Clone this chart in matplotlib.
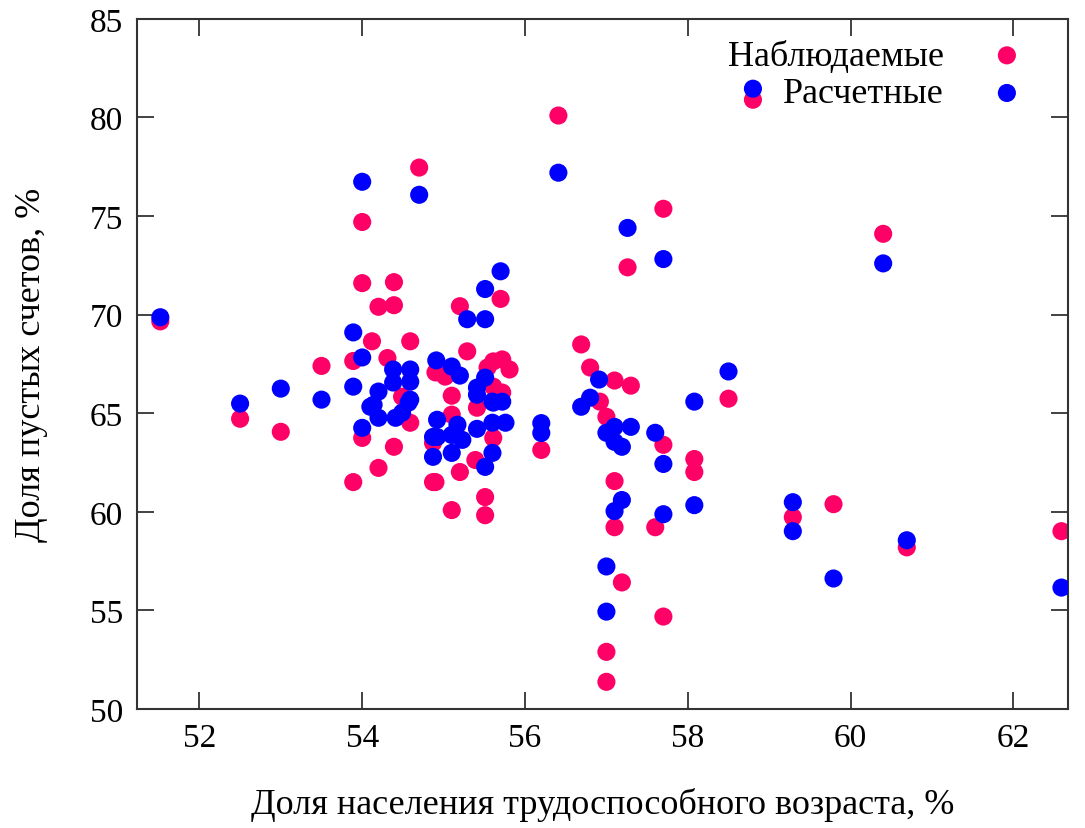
import matplotlib
matplotlib.use("Agg")
import matplotlib.pyplot as plt

# Наблюдаемые (observed)
obs_x = [51.52, 52.5, 53.0, 53.5, 53.89, 53.89, 54.0, 54.0, 54.0, 54.12, 54.2, 54.2,
         54.31, 54.39, 54.39, 54.39, 54.49, 54.59, 54.59, 54.7, 54.9, 54.87, 54.87, 54.9,
         55.02, 55.1, 55.1, 55.1, 55.2, 55.2, 55.29, 55.41, 55.39, 55.54, 55.51, 55.51,
         55.61, 55.61, 55.61, 55.7, 55.72, 55.72, 55.81, 56.2, 56.41, 56.69, 56.8, 56.92,
         57.0, 57.0, 57.0, 57.1, 57.1, 57.1, 57.19, 57.3, 57.26, 57.6, 57.7, 57.7, 57.7,
         58.08, 58.08, 58.5, 58.8, 59.29, 59.79, 60.4, 60.69, 62.59]
obs_y = [69.66, 64.72, 64.06, 67.4, 67.65, 61.51, 74.7, 71.6, 63.75, 68.65, 70.4, 62.23,
         67.8, 71.65, 70.48, 63.3, 65.84, 68.65, 64.52, 77.46, 67.07, 63.5, 61.51, 61.51,
         66.86, 65.89, 64.93, 60.09, 70.43, 62.02, 68.14, 65.28, 62.63, 67.32, 60.75, 59.83,
         67.63, 66.35, 63.75, 70.8, 67.73, 66.05, 67.22, 63.14, 80.1, 68.49, 67.32, 65.59,
         64.82, 52.9, 51.38, 66.66, 61.56, 59.22, 56.42, 66.4, 72.4, 59.22, 75.37, 63.4, 54.69,
         62.68, 62.02, 65.74, 80.9, 59.73, 60.39, 74.1, 58.2, 59.02]

# Расчетные (calculated)
calc_x = [51.52, 52.5, 53.0, 53.5, 53.89, 53.89, 54.0, 54.0, 54.0, 54.1, 54.14, 54.2, 54.2,
          54.38, 54.38, 54.41, 54.49, 54.59, 54.59, 54.59, 54.57, 54.7, 54.91, 54.92, 54.87,
          54.87, 54.92, 55.1, 55.1, 55.1, 55.17, 55.2, 55.23, 55.29, 55.41, 55.41, 55.41,
          55.51, 55.51, 55.51, 55.51, 55.6, 55.61, 55.6, 55.6, 55.7, 55.72, 55.76, 56.2, 56.2,
          56.41, 56.69, 56.8, 56.91, 57.0, 57.0, 57.0, 57.1, 57.1, 57.1, 57.19, 57.19, 57.3,
          57.26, 57.6, 57.7, 57.7, 57.7, 58.08, 58.08, 58.5, 58.8, 59.29, 59.29, 59.79, 60.4,
          60.69, 62.59]
calc_y = [69.87, 65.49, 66.25, 65.69, 69.1, 66.35, 76.74, 67.83, 64.26, 65.33, 65.43, 66.1,
          64.77, 67.22, 66.56, 64.77, 65.03, 67.22, 66.6, 65.69, 65.54, 76.08, 67.68, 64.67,
          63.8, 62.79, 63.8, 67.37, 63.9, 62.99, 64.42, 66.91, 63.65, 69.77, 66.3, 65.94, 64.21,
          71.3, 69.77, 66.81, 62.28, 65.59, 65.54, 64.52, 62.99, 72.2, 65.59, 64.52, 64.5, 64.0,
          77.2, 65.33, 65.79, 66.71, 64.01, 57.23, 54.94, 64.31, 63.55, 60.04, 63.3, 60.6, 64.31,
          74.4, 64.01, 72.82, 62.43, 59.88, 65.59, 60.34, 67.12, 81.46, 60.49, 59.02, 56.62, 72.6,
          58.56, 56.16]

plt.rcParams['font.family'] = ['Liberation Serif', 'DejaVu Serif']

fig = plt.figure(figsize=(10.85, 8.29), dpi=100)
ax = fig.add_axes([0.126, 0.1435, 0.8583, 0.8325])

ax.scatter(obs_x, obs_y, s=170, color='#ff0066', edgecolors='none', label='Наблюдаемые', zorder=2)
ax.scatter(calc_x, calc_y, s=170, color='#0000ff', edgecolors='none', label='Расчетные', zorder=3)

ax.set_xlim(51.23, 62.67)
ax.set_ylim(50, 85)
ax.set_xticks([52, 54, 56, 58, 60, 62])
ax.set_yticks([50, 55, 60, 65, 70, 75, 80, 85])
ax.tick_params(direction='in', length=12, width=1.3, color='#333333', labelsize=24,
               top=True, right=True, pad=10)
for sp in ax.spines.values():
    sp.set_linewidth(1.5)
    sp.set_color('#333333')

ax.set_xlabel('Доля населения трудоспособного возраста, %', fontsize=26, labelpad=24)
ax.set_ylabel('Доля пустых счетов, %', fontsize=26, labelpad=30)

ax.legend(loc='upper right', markerfirst=False, frameon=False, fontsize=26,
          handletextpad=1.0, labelspacing=0.12, borderaxespad=0.0, handlelength=1.5,
          bbox_to_anchor=(0.979, 0.991))

fig.savefig('out.png', dpi=100)
